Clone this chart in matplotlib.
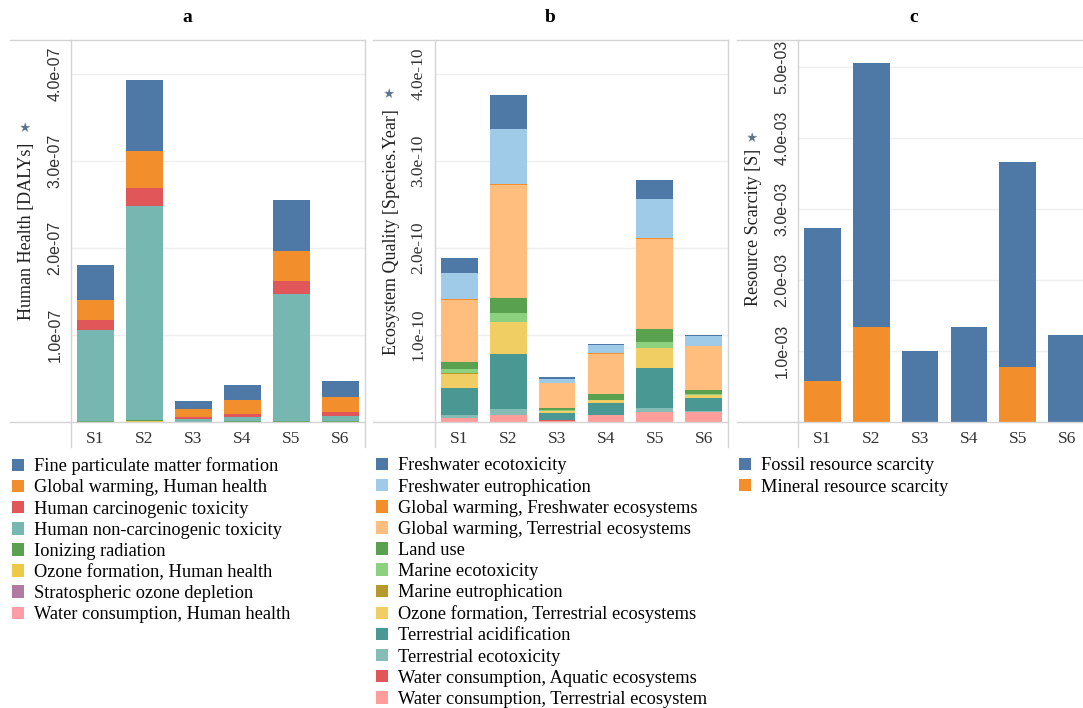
import matplotlib
matplotlib.use("Agg")
import matplotlib.pyplot as plt
from matplotlib.lines import Line2D
from matplotlib.ticker import FixedLocator, FuncFormatter
import numpy as np

W, H = 1083, 708

scenarios = ['S1', 'S2', 'S3', 'S4', 'S5', 'S6']

# ---------- Panel a: Human Health (DALYs), values in 1e-7 ----------
hh_scale = 1e-7
hh_labels = ['Fine particulate matter formation', 'Global warming, Human health',
             'Human carcinogenic toxicity', 'Human non-carcinogenic toxicity',
             'Ionizing radiation', 'Ozone formation, Human health',
             'Stratospheric ozone depletion', 'Water consumption, Human health']
fine_pm = [0.40, 0.82, 0.10, 0.17, 0.58, 0.18]
gw_hh = [0.233, 0.42, 0.085, 0.16, 0.35, 0.17]
hum_carc = [0.11, 0.21, 0.03, 0.03, 0.14, 0.045]
hum_noncarc = [1.05, 2.46, 0.025, 0.055, 1.46, 0.065]
ionizing = [0.006, 0.01, 0.003, 0.004, 0.008, 0.005]
ozone_hh = [0.003, 0.005, 0.002, 0.002, 0.004, 0.002]
strat_ozone = [0.001, 0.002, 0.001, 0.001, 0.001, 0.001]
water_hh = [0.003, 0.006, 0.003, 0.004, 0.004, 0.005]
hh_series = [fine_pm, gw_hh, hum_carc, hum_noncarc, ionizing, ozone_hh, strat_ozone, water_hh]
hh_colors = ['#4e79a7', '#f28e2b', '#e15759', '#76b7b2', '#59a14f', '#edc948', '#b07aa1', '#ff9da7']
hh_ticks = [1, 2, 3, 4]

# ---------- Panel b: Ecosystem Quality (species.yr), values in 1e-10 ----------
eq_scale = 1e-10
eq_labels = ['Freshwater ecotoxicity', 'Freshwater eutrophication',
             'Global warming, Freshwater ecosystems', 'Global warming, Terrestrial ecosystems',
             'Land use', 'Marine ecotoxicity', 'Marine eutrophication',
             'Ozone formation, Terrestrial ecosystems', 'Terrestrial acidification',
             'Terrestrial ecotoxicity', 'Water consumption, Aquatic ecosystems',
             'Water consumption, Terrestrial ecosystem']
fw_ecotox = [0.17, 0.39, 0.02, 0.01, 0.225, 0.01]
fw_eutro = [0.30, 0.63, 0.04, 0.095, 0.445, 0.11]
gw_fw = [0.01, 0.01, 0.003, 0.005, 0.01, 0.005]
gw_terr = [0.71, 1.29, 0.29, 0.46, 1.03, 0.505]
land_use = [0.08, 0.18, 0.02, 0.065, 0.155, 0.045]
marine_ecotox = [0.05, 0.10, 0.01, 0.008, 0.065, 0.01]
marine_eutro = [0.003, 0.004, 0.001, 0.001, 0.003, 0.001]
ozone_terr = [0.16, 0.36, 0.02, 0.03, 0.23, 0.03]
terr_acid = [0.31, 0.64, 0.08, 0.135, 0.46, 0.155]
terr_ecotox = [0.035, 0.065, 0.01, 0.005, 0.04, 0.005]
water_aq = [0.003, 0.004, 0.002, 0.002, 0.003, 0.002]
water_terr = [0.05, 0.08, 0.02, 0.08, 0.12, 0.12]
eq_series = [fw_ecotox, fw_eutro, gw_fw, gw_terr, land_use, marine_ecotox, marine_eutro,
             ozone_terr, terr_acid, terr_ecotox, water_aq, water_terr]
eq_colors = ['#4e79a7', '#a0cbe8', '#f28e2b', '#ffbe7d', '#59a14f', '#8cd17d', '#b6992d',
             '#f1ce63', '#499894', '#86bcb6', '#e15759', '#ff9d9a']
eq_ticks = [1, 2, 3, 4]

# ---------- Panel c: Resource Scarcity, values in 1e-3 ----------
rs_scale = 1e-3
rs_labels = ['Fossil resource scarcity', 'Mineral resource scarcity']
fossil = [2.155, 3.72, 1.01, 1.33, 2.88, 1.215]
mineral = [0.58, 1.34, 0.0, 0.01, 0.78, 0.01]
rs_series = [fossil, mineral]
rs_colors = ['#4e79a7', '#f28e2b']
rs_ticks = [1, 2, 3, 4, 5]

SERIF = 'Liberation Serif'
SANS = 'Liberation Sans'
LINE = '#d4d4d4'

fig = plt.figure(figsize=(W / 100, H / 100), dpi=100)


def fx(x):
    return x / W


def fy(y):
    return 1 - y / H


def fline(x0, y0, x1, y1):
    fig.add_artist(Line2D([fx(x0), fx(x1)], [fy(y0), fy(y1)], transform=fig.transFigure,
                          color=LINE, lw=1.0))


TOP, BASE = 40, 422.3


def panel(left, right, frame_left, series, colors, labels, scale, ymax, ticks, tickfam,
          ylabel, ylab_x, ylab_y, star_xy, title, leg_x):
    ax = fig.add_axes([fx(left), fy(BASE), fx(right - left), (BASE - TOP) / H])
    x = np.arange(len(scenarios))
    bottom = np.zeros(len(scenarios))
    handles = []
    for vals, col, lab in list(zip(series, colors, labels))[::-1]:
        v = np.array(vals) * scale
        b = ax.bar(x, v, width=0.75, bottom=bottom, color=col, label=lab, linewidth=0)
        bottom += v
        handles.append(b)
    handles = handles[::-1]
    ax.set_xlim(-0.5, len(scenarios) - 0.5)
    ax.set_ylim(0, ymax * scale)
    ax.yaxis.set_major_locator(FixedLocator([t * scale for t in ticks]))
    ax.yaxis.set_major_formatter(FuncFormatter(lambda v, p: f"{v:.1e}"))
    ax.set_xticks(x)
    ax.set_xticklabels(scenarios, fontfamily=SERIF, fontsize=12.5)
    for lab in ax.get_yticklabels():
        lab.set_fontfamily(tickfam)
        lab.set_fontsize(12.5 if tickfam == SERIF else 11.5)
        lab.set_rotation(90)
        lab.set_va('center')
    ax.tick_params(axis='both', length=0, colors='#333333')
    ax.tick_params(axis='y', pad=6)
    ax.tick_params(axis='x', pad=6)
    ax.grid(axis='y', color='#efefef', lw=1.0)
    ax.set_axisbelow(True)
    for s in ax.spines.values():
        s.set_visible(False)
    # frame lines
    fline(frame_left, TOP, right, TOP)
    fline(frame_left, BASE, right, BASE)
    fline(left, TOP, left, 447)
    fline(right, TOP, right, 447)
    fig.text(fx(ylab_x), fy(ylab_y), ylabel, rotation=90, ha='center', va='center',
             fontfamily=SERIF, fontsize=13, color='#222222')
    fig.text(fx(star_xy[0]), fy(star_xy[1]), '\u2605', rotation=70, ha='center', va='center',
             fontfamily='DejaVu Sans', fontsize=9.5, color='#5b6f86')
    fig.text(fx((frame_left + right) / 2), fy(18), title, ha='center', va='center',
             fontfamily=SERIF, fontsize=14, fontweight='bold')
    fig.legend(handles=handles, labels=labels, loc='upper left',
               bbox_to_anchor=(fx(leg_x), fy(457.5)), frameon=False,
               prop={'family': SERIF, 'size': 13.2}, handlelength=0.68, handleheight=0.68,
               handletextpad=0.5, labelspacing=0.225, borderaxespad=0, borderpad=0)
    return ax


panel(71, 365, 10, hh_series, hh_colors, hh_labels, hh_scale, 4.39, hh_ticks, SANS,
      'Human Health [DALYs]', 27, 231, (26, 127), 'a', 12)
panel(435, 728, 373, eq_series, eq_colors, eq_labels, eq_scale, 4.39, eq_ticks, SERIF,
      'Ecosystem Quality [Species.Year]', 391, 232, (390, 93), 'b', 376)
panel(798, 1091, 737, rs_series, rs_colors, rs_labels, rs_scale, 5.38, rs_ticks, SANS,
      'Resource Scarcity [S]', 753, 227, (753, 137), 'c', 739)

fig.savefig('out.png', dpi=100)
